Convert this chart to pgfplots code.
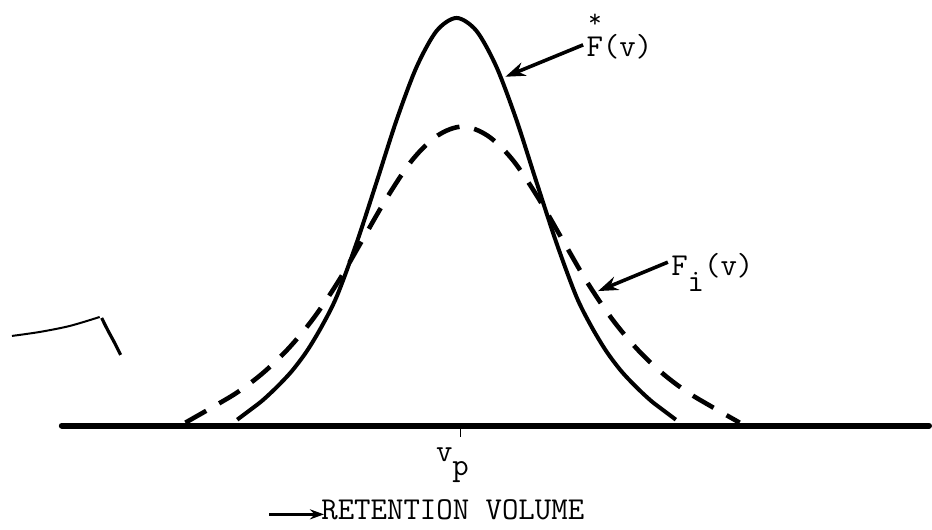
\documentclass[border=0pt]{standalone}
\usepackage{pgfplots}
\pgfplotsset{compat=1.18}
\usetikzlibrary{arrows.meta}
\newcommand{\lbl}{\fontsize{16}{18}\selectfont\ttfamily}
\begin{document}
\begin{tikzpicture}
\begin{axis}[
  width=466pt, height=265.5pt, scale only axis,
  xmin=0, xmax=932, ymin=0, ymax=531, y dir=reverse,
  hide axis, clip=false,
]
\path (axis cs:0,0) rectangle (axis cs:932,531);

% retention-volume axis
\addplot[black, line width=3pt, line cap=round] coordinates {(62,427) (932,427)};
\addplot[black, line width=0.8pt] coordinates {(462,427) (462,438)};

% experimental profile F*(v)
\addplot[black, line width=2pt, smooth, tension=0.5] coordinates {
  (238,421) (250,412) (263,402) (278,388) (293,372) (308,352) (323,327)
  (338,297) (358,243) (378,182) (398,120) (418,67) (438,31) (458,18)
  (478,31) (498,67) (518,120) (538,182) (558,243) (578,297)
  (593,327) (608,352) (623,372) (638,388) (653,402) (666,412) (678,421)
};

% individual profile F_i(v)
\addplot[black, line width=2.3pt, smooth, tension=0.55,
  dash pattern=on 12pt off 7.5pt] coordinates {
  (186,424) (214,408) (239,393) (264,374) (289,350) (314,320)
  (339,283) (364,240) (389,197) (414,160) (439,136) (464,127)
  (489,136) (514,160) (539,197) (564,240) (589,283) (614,320)
  (639,350) (664,374) (689,393) (714,408) (742,424)
};

% stray pen stroke at the left
\addplot[black, line width=1pt, smooth] coordinates {(12,337) (40,333) (70,327) (100,318)};
\addplot[black, line width=1.6pt, smooth] coordinates {(102,319) (108,331) (115,344) (121,356)};

% labels and pointers
\draw[line width=1.8pt, -{Stealth[length=10pt, width=7pt]}] (axis cs:585,45) -- (axis cs:507,77);
\node[anchor=base west, inner sep=0pt, font=\lbl] at (axis cs:588,57) {F(v)};
\node[anchor=center, inner sep=0pt, font=\fontsize{13}{13}\selectfont\ttfamily] at (axis cs:597,21) {*};

\draw[line width=1.8pt, -{Stealth[length=10pt, width=7pt]}] (axis cs:670,263) -- (axis cs:600,292);
\node[anchor=base west, inner sep=0pt, font=\lbl] at (axis cs:673,276) {F\raisebox{-8pt}{i}(v)};

\node[anchor=base west, inner sep=0pt, font=\lbl] at (axis cs:437,463) {v\raisebox{-7pt}{p}};

\draw[line width=1.3pt, -{Stealth[length=7pt, width=5pt]}] (axis cs:270,516) -- (axis cs:325,516);
\node[anchor=base west, inner sep=0pt, font=\lbl] at (axis cs:322,521) {RETENTION VOLUME};
\end{axis}
\end{tikzpicture}
\end{document}
